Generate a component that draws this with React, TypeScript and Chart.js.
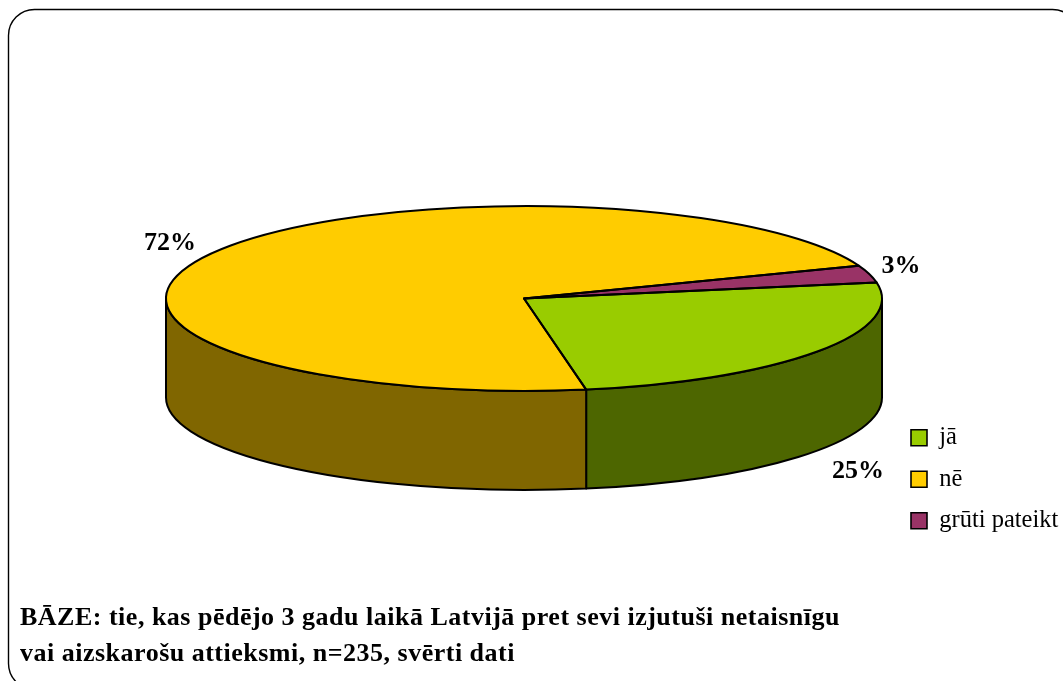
import React, { useEffect, useRef } from "react";
import { Chart, registerables } from "chart.js";

Chart.register(...registerables);

const categories = ["jā", "nē", "grūti pateikt"];
const shares = [25, 72, 3];
const topColors = ["#99CC00", "#FFCC00", "#993366"];
const wallColors = ["#4D6600", "#806600", "#4D1A33"];
const noteLines = [
  "BĀZE: tie, kas pēdējo 3 gadu laikā Latvijā pret sevi izjutuši netaisnīgu",
  "vai aizskarošu attieksmi, n=235, svērti dati",
];

const SERIF = '"Liberation Serif", serif';
const TILT = 92.5 / 358;
const DEPTH = 99;
const LINE = 2;
const valueLabelAt = [
  { x: 858, y: 471 },
  { x: 170, y: 243 },
  { x: 901, y: 266 },
];

const pie3d = {
  id: "pie3d",
  beforeDraw(chart: any) {
    const { ctx } = chart;
    ctx.save();
    ctx.fillStyle = "#fff";
    ctx.fillRect(0, 0, chart.width, chart.height);
    ctx.beginPath();
    ctx.roundRect(8.5, 9.5, 1070, 680, 26);
    ctx.strokeStyle = "#000";
    ctx.lineWidth = 1.4;
    ctx.stroke();
    ctx.restore();
  },
  beforeDatasetsDraw(chart: any) {
    const { ctx } = chart;
    const arcs = chart.getDatasetMeta(0).data;
    ctx.save();
    ctx.lineWidth = LINE;
    ctx.strokeStyle = "#000";
    ctx.lineJoin = "round";
    arcs.forEach((arc: any, i: number) => {
      const { x, y, outerRadius: r, startAngle, endAngle } = arc;
      const ry = r * TILT;
      for (const base of [0, 2 * Math.PI]) {
        const a = Math.max(startAngle, base);
        const b = Math.min(endAngle, base + Math.PI);
        if (b <= a) continue;
        ctx.beginPath();
        ctx.ellipse(x, y, r, ry, 0, a, b);
        ctx.ellipse(x, y + DEPTH, r, ry, 0, b, a, true);
        ctx.closePath();
        ctx.fillStyle = wallColors[i];
        ctx.fill();
        ctx.stroke();
      }
    });
    ctx.restore();
    const c = arcs[0];
    ctx.save();
    ctx.translate(c.x, c.y);
    ctx.scale(1, TILT);
    ctx.translate(-c.x, -c.y);
  },
  afterDatasetsDraw(chart: any) {
    const { ctx } = chart;
    ctx.restore();
    ctx.save();
    ctx.lineWidth = LINE;
    ctx.strokeStyle = "#000";
    ctx.lineJoin = "round";
    chart.getDatasetMeta(0).data.forEach((arc: any) => {
      const { x, y, outerRadius: r, startAngle, endAngle } = arc;
      ctx.beginPath();
      ctx.moveTo(x, y);
      ctx.ellipse(x, y, r, r * TILT, 0, startAngle, endAngle);
      ctx.closePath();
      ctx.stroke();
    });
    ctx.fillStyle = "#000";
    ctx.font = `bold 26px ${SERIF}`;
    ctx.textAlign = "center";
    ctx.textBaseline = "middle";
    shares.forEach((v, i) => {
      ctx.fillText(`${v}%`, valueLabelAt[i].x, valueLabelAt[i].y);
    });
    ctx.restore();
  },
  afterLayout(chart: any) {
    const l = chart.legend;
    l.left = 894;
    l.right = 1063;
    l.top = 408.5;
    l.bottom = 600;
    const t = chart.titleBlock;
    t.left = 20;
    t.right = 1000;
    t.top = 600;
    t.bottom = 681;
    if (!t._spaced) {
      t._spaced = true;
      const drawTitle = t.draw;
      t.draw = function (...args: any[]) {
        const c = this.ctx;
        c.save();
        c.letterSpacing = "0.5px";
        drawTitle.apply(this, args);
        c.restore();
      };
    }
  },
};

export default function App() {
  const ref = useRef<HTMLCanvasElement>(null);
  useEffect(() => {
    const chart = new Chart(ref.current!, {
      type: "pie",
      data: {
        labels: categories,
        datasets: [
          {
            data: shares,
            backgroundColor: topColors,
            borderWidth: 0,
            clip: false,
          } as any,
        ],
      },
      options: {
        responsive: false,
        animation: false,
        rotation: 80,
        radius: 358,
        layout: { padding: { left: 0, right: 15, top: 0, bottom: 12 } },
        plugins: {
          tooltip: { enabled: false },
          title: {
            display: true,
            position: "bottom",
            align: "start",
            text: noteLines,
            color: "#000",
            padding: 0,
            font: { family: SERIF, size: 26, weight: "bold", lineHeight: 36 / 26 },
          },
          legend: {
            display: true,
            position: "chartArea",
            align: "start",
            labels: {
              boxWidth: 16,
              boxHeight: 16,
              padding: 17,
              color: "#000",
              font: { family: SERIF, size: 24.5 },
              generateLabels(chart: any) {
                return (Chart as any).overrides.pie.plugins.legend.labels
                  .generateLabels(chart)
                  .map((it: any) => ({ ...it, strokeStyle: "#000", lineWidth: 1.6 }));
              },
            },
          },
        },
      } as any,
      plugins: [pie3d],
    });
    return () => chart.destroy();
  }, []);
  return (
    <canvas
      ref={ref}
      width={1063}
      height={681}
      style={{ position: "fixed", left: 0, top: 0, display: "block" }}
    />
  );
}
